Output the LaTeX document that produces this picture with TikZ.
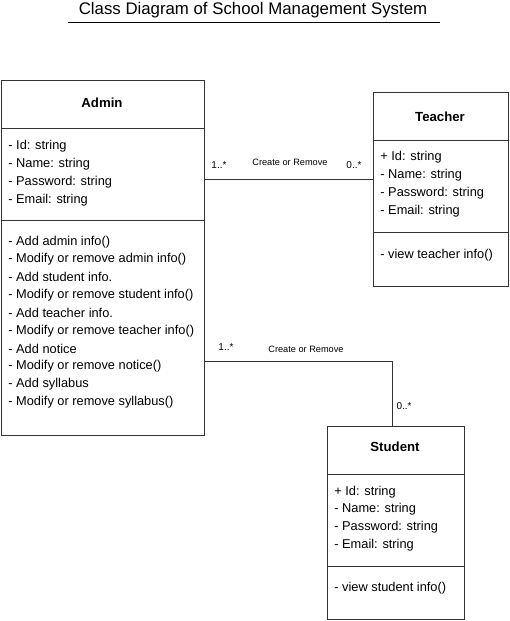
\documentclass[tikz,border=0pt]{standalone}
\usepackage{fontspec}
\setmainfont{Liberation Sans}
\usetikzlibrary{positioning}

\begin{document}
\begin{tikzpicture}[
      x=1pt, y=-1pt,
      line width=0.8pt,
      every node/.style={inner sep=0pt},
      classbox/.style={draw=black!80, anchor=north west},
      member/.style={anchor=west, font=\fontsize{12.8}{15}\selectfont},
      classname/.style={font=\fontsize{13.2}{15}\selectfont\bfseries},
      mult/.style={font=\fontsize{10}{12}\selectfont},
      role/.style={font=\fontsize{9.2}{11}\selectfont}
    ]
    \useasboundingbox (0,0) rectangle (509,621);

    % title
    \node [font=\fontsize{16.8}{20}\selectfont] (title) at (253,10) {Class Diagram of School Management System};
    \draw [line width=0.9pt] (68,22) -- (440,22);

    % Admin
    \node [classbox, minimum width=203pt, minimum height=355pt] (admin) at (1,80) {};
    \draw [black!80] (1,128) -- (204,128);
    \draw [black!80] (1,220) -- (204,220);
    \node [classname] (admin-name) at (102,103) {Admin};
    \foreach \t [count=\i] in {Id: string, Name: string, Password: string, Email: string} {
      \node [member] (admin-a\i) at (8,128.5+17.8*\i) {- \t};
    }
    \foreach \t [count=\i] in {Add admin info(), Modify or remove admin info(), Add student info.,
        Modify or remove student info(), Add teacher info., Modify or remove teacher info(),
        Add notice, Modify or remove notice(), Add syllabus, Modify or remove syllabus()} {
      \node [member] (admin-m\i) at (8,224+17.8*\i) {- \t};
    }

    % Teacher
    \node [classbox, minimum width=135pt, minimum height=194pt] (teacher) at (373,92) {};
    \draw [black!80] (373,140) -- (508,140);
    \draw [black!80] (373,232) -- (508,232);
    \node [classname] (teacher-name) at (440,117) {Teacher};
    \foreach \t [count=\i] in {+ Id: string, - Name: string, - Password: string, - Email: string} {
      \node [member] (teacher-a\i) at (380,139.5+17.9*\i) {\t};
    }
    \node [member] (teacher-m1) at (380,255) {- view teacher info()};

    % Student
    \node [classbox, minimum width=137pt, minimum height=193pt] (student) at (327,426) {};
    \draw [black!80] (327,474) -- (464,474);
    \draw [black!80] (327,566) -- (464,566);
    \node [classname] (student-name) at (395,447) {Student};
    \foreach \t [count=\i] in {+ Id: string, - Name: string, - Password: string, - Email: string} {
      \node [member] (student-a\i) at (334,474+17.8*\i) {\t};
    }
    \node [member] (student-m1) at (334,588) {- view student info()};

    % Admin -- Teacher
    \draw [black!80] (admin.east |- 0,179) -- (teacher.west |- 0,179);
    \node [mult] (at-1) at (219,165) {1..*};
    \node [role] (at-r) at (290,162) {Create or Remove};
    \node [mult] (at-0) at (354,165) {0..*};

    % Admin -- Student
    \draw [black!80] (admin.east |- 0,361) -| (student.north -| 392,0);
    \node [mult] (as-1) at (226,347) {1..*};
    \node [role] (as-r) at (306,349) {Create or Remove};
    \node [mult] (as-0) at (404,406) {0..*};
  \end{tikzpicture}
\end{document}
